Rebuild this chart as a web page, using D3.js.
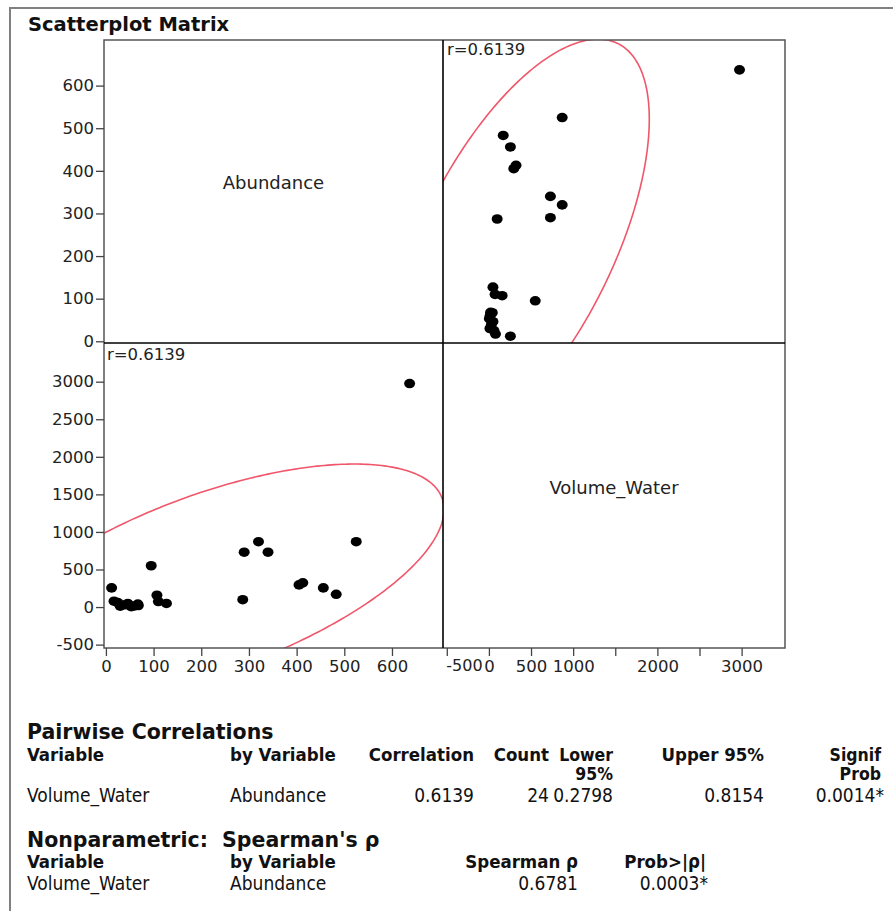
<!DOCTYPE html>
<html><head><meta charset="utf-8">
<script src="https://cdn.jsdelivr.net/npm/d3@7/dist/d3.min.js"></script>
<style>
body{margin:0;background:#fff;}
svg{display:block;}
</style></head>
<body>
<svg id="c" width="893" height="911"></svg>
<script>
// ---- data ----
const abundance = [637,525,483,456,405,413,340,320,290,287,95,12,127,110,107,17,30,46,53,67,68,40,60,25];
const volumeWater = [2975,870,170,255,295,322,730,870,730,98,550,255,48,73,157,78,12,48,5,40,20,30,15,60];
const varNames = ["Abundance","Volume_Water"];
const abundTicks = [0,100,200,300,400,500,600];
const volTicks = [-500,0,500,1000,1500,2000,2500,3000];
const volXLabels = [-500,0,500,1000,2000,3000];
const rLabel = "r=0.6139";
// 95% density ellipse: [Abundance, Volume_Water]
const ellipseMean = [222, 330];
const ellipseSD = [199, 643];
const ellipseR = 0.6139;
const ellipseCoverage = 0.95;
const pairHeader = ["Variable","by Variable","Correlation","Count","Lower","Upper 95%","Signif"];
const pairHeader2 = ["","","","","95%","","Prob"];
const pairRow = ["Volume_Water","Abundance","0.6139","24","0.2798","0.8154","0.0014*"];
const spearHeader = ["Variable","by Variable","Spearman \u03c1","Prob>|\u03c1|"];
const spearRow = ["Volume_Water","Abundance","0.6781","0.0003*"];

const svg = d3.select("#c");
const X0=104, XM=443, X1=785, Y0=40, YM=343, Y1=648;
const SANS = "DejaVu Sans, Verdana, sans-serif";
const COND = "DejaVu Sans Condensed, DejaVu Sans, sans-serif";

const aX = d3.scaleLinear().domain([-4,707]).range([X0,XM]);
const aY = d3.scaleLinear().domain([-4,707]).range([YM,Y0]);
const vX = d3.scaleLinear().domain([-545,3515]).range([XM,X1]);
const vY = d3.scaleLinear().domain([-545,3515]).range([Y1,YM]);

// outer frame
svg.append("path").attr("d",`M10,911 V8 H893`).attr("fill","none").attr("stroke","#808080").attr("stroke-width",2);

// title
svg.append("text").attr("x",28).attr("y",31).text("Scatterplot Matrix")
  .attr("font-family",SANS).attr("font-weight","bold").attr("font-size",19.5).attr("fill","#111");

// clip paths
const defs = svg.append("defs");
defs.append("clipPath").attr("id","ll").append("rect").attr("x",X0).attr("y",YM).attr("width",XM-X0).attr("height",Y1-YM);
defs.append("clipPath").attr("id","ur").append("rect").attr("x",XM).attr("y",Y0).attr("width",X1-XM).attr("height",YM-Y0);

// density ellipse
const k = Math.sqrt(-2*Math.log(1-ellipseCoverage));
const q = Math.sqrt(1-ellipseR*ellipseR);
const ell = d3.range(0,361,1).map(d=>{const t=d*Math.PI/180; const u=Math.cos(t), w=Math.sin(t);
  return {a: ellipseMean[0] + k*ellipseSD[0]*u, v: ellipseMean[1] + k*ellipseSD[1]*(ellipseR*u + q*w)};});

svg.append("path").attr("clip-path","url(#ll)")
  .attr("d", d3.line().x(d=>aX(d.a)).y(d=>vY(d.v))(ell))
  .attr("fill","none").attr("stroke","#f0566a").attr("stroke-width",1.6);
svg.append("path").attr("clip-path","url(#ur)")
  .attr("d", d3.line().x(d=>vX(d.v)).y(d=>aY(d.a))(ell))
  .attr("fill","none").attr("stroke","#f0566a").attr("stroke-width",1.6);

// points
const pts = abundance.map((a,i)=>({a, v: volumeWater[i]}));
svg.append("g").selectAll("ellipse").data(pts).join("ellipse")
  .attr("cx",d=>aX(d.a)).attr("cy",d=>vY(d.v)).attr("rx",5.5).attr("ry",4.8).attr("fill","#000");
svg.append("g").selectAll("ellipse").data(pts).join("ellipse")
  .attr("cx",d=>vX(d.v)).attr("cy",d=>aY(d.a)).attr("rx",5.5).attr("ry",4.8).attr("fill","#000");

// frame and dividers
svg.append("rect").attr("x",X0).attr("y",Y0).attr("width",X1-X0).attr("height",Y1-Y0)
  .attr("fill","none").attr("stroke","#555").attr("stroke-width",1.5);
svg.append("line").attr("x1",XM).attr("x2",XM).attr("y1",Y0).attr("y2",Y1).attr("stroke","#000").attr("stroke-width",1.6);
svg.append("line").attr("x1",X0).attr("x2",X1).attr("y1",YM).attr("y2",YM).attr("stroke","#000").attr("stroke-width",1.6);

// diagonal labels
function lab(x,y,s,size,anchor){
  return svg.append("text").attr("x",x).attr("y",y).text(s).attr("font-family",SANS)
    .attr("font-size",size).attr("fill","#222").attr("text-anchor",anchor||"start");
}
lab((X0+XM)/2,189,varNames[0],18,"middle");
lab((XM+X1)/2,494,varNames[1],18,"middle");
lab(XM+4,Y0+15,rLabel,16.5);
lab(X0+3,YM+17,rLabel,16.5);

// axes
function styleAxis(g){
  g.select(".domain").remove();
  g.selectAll("line").attr("stroke","#444").attr("stroke-width",1.3);
  g.selectAll("text").attr("font-family",SANS).attr("font-size",16.5).attr("fill","#222");
}
const fmt = d => String(d);
svg.append("g").attr("transform",`translate(${X0},0)`).call(d3.axisLeft(aY).tickValues(abundTicks).tickFormat(fmt).tickSize(8).tickPadding(2)).call(styleAxis);
svg.append("g").attr("transform",`translate(${X0},0)`).call(d3.axisLeft(vY).tickValues(volTicks).tickFormat(fmt).tickSize(8).tickPadding(2)).call(styleAxis);
svg.append("g").attr("transform",`translate(0,${Y1})`).call(d3.axisBottom(aX).tickValues(abundTicks).tickFormat(fmt).tickSize(8).tickPadding(4)).call(styleAxis);
const bx = svg.append("g").attr("transform",`translate(0,${Y1})`).call(d3.axisBottom(vX).tickValues(volTicks).tickSize(8).tickPadding(4)
  .tickFormat(d=>volXLabels.includes(d)?fmt(d):"")).call(styleAxis);
bx.selectAll(".tick").filter(d=>d===-500).select("text").attr("text-anchor","start").attr("x",-1).attr("font-size",16);

// tables
const T = svg.append("g");
function txt(x,y,s,opt={}){
  return T.append("text").attr("x",x).attr("y",y).text(s).attr("font-family",COND)
    .attr("font-size",opt.size||19).attr("font-weight",opt.bold?"bold":"normal")
    .attr("text-anchor",opt.anchor||"start").attr("fill","#111");
}
T.append("text").attr("x",27).attr("y",739).text("Pairwise Correlations")
  .attr("font-family",SANS).attr("font-weight","bold").attr("font-size",20.5).attr("fill","#111");
const hx = [[27,"start"],[230,"start"],[474,"end"],[549,"end"],[613,"end"],[764,"end"],[881,"end"]];
const hSize = [18.5,18.5,18.5,18.5,17.5,18.5,17.5];
pairHeader.forEach((h,i)=>txt(hx[i][0],761,h,{bold:true,anchor:hx[i][1],size:hSize[i]}));
pairHeader2.forEach((h,i)=>{ if(h) txt(hx[i][0],780,h,{bold:true,anchor:hx[i][1],size:hSize[i]}); });
const rx = [[27,"start"],[230,"start"],[474,"end"],[549,"end"],[613,"end"],[764,"end"],[884,"end"]];
pairRow.forEach((h,i)=>txt(rx[i][0],802,h,{anchor:rx[i][1]}));

T.append("text").attr("x",27).attr("y",847).text("Nonparametric:  Spearman's \u03c1").attr("xml:space","preserve")
  .attr("font-family",SANS).attr("font-weight","bold").attr("font-size",20.5).attr("fill","#111");
const sx = [[27,"start"],[230,"start"],[578,"end"],[706,"end"]];
spearHeader.forEach((h,i)=>txt(sx[i][0],868,h,{bold:true,anchor:sx[i][1],size:18.5}));
const sx2 = [[27,"start"],[230,"start"],[578,"end"],[708,"end"]];
spearRow.forEach((h,i)=>txt(sx2[i][0],890,h,{anchor:sx2[i][1]}));
</script>
</body></html>
